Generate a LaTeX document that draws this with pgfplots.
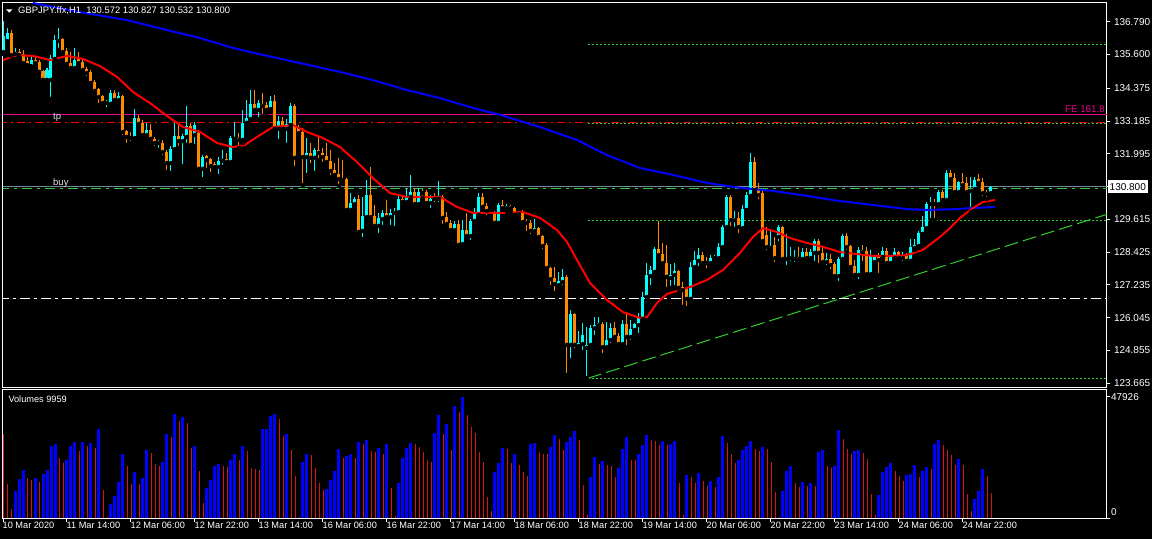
\documentclass[border=0pt]{standalone}
\usepackage{fontspec}
\setmainfont{Liberation Sans}
\usepackage{pgfplots}
\pgfplotsset{compat=1.18}
\usepackage{pgfplotstable}

\definecolor{upc}{RGB}{0,255,255}
\definecolor{dnc}{RGB}{255,140,0}
\definecolor{lvl}{RGB}{50,205,50}
\definecolor{bidgray}{RGB}{119,136,153}
\definecolor{lbl}{RGB}{225,225,235}
\definecolor{volred}{RGB}{215,20,20}

% bull candles: bar index, open, high, low, close
\pgfplotstableread{
i o h l c
0 135.69 136.82 135.62 136.27
1 136.09 136.56 136.02 136.38
3 135.62 135.84 135.44 135.69
7 135.18 135.51 135.15 135.40
11 134.68 135.11 134.60 135.04
12 134.68 135.58 133.99 135.47
13 135.44 136.31 135.40 136.13
14 136.09 136.56 135.77 136.16
18 135.11 135.84 135.00 135.40
26 133.84 133.95 133.62 133.88
27 133.81 134.31 133.77 134.20
29 133.95 134.24 133.88 134.10
33 132.57 133.62 132.54 133.30
36 132.68 133.12 132.54 132.86
39 132.39 132.50 132.14 132.43
42 131.66 132.28 131.30 132.17
43 132.17 133.12 132.14 132.64
45 132.46 132.72 131.55 132.64
46 132.61 133.73 132.32 133.01
48 132.68 133.15 132.28 133.04
50 131.45 131.95 131.08 131.88
54 131.52 131.88 131.19 131.74
55 131.74 132.14 131.52 131.81
57 131.70 132.64 131.66 132.57
58 132.54 133.15 132.39 132.57
60 132.50 133.59 132.39 133.12
61 133.12 133.95 133.04 133.30
62 133.26 134.31 133.22 133.81
64 133.59 133.95 133.26 133.84
67 133.62 134.10 133.55 133.91
69 132.90 133.37 132.46 133.19
71 132.90 133.26 132.32 133.08
72 133.04 133.84 133.01 133.73
76 131.88 132.57 131.23 132.03
78 131.85 132.21 131.30 132.14
87 129.96 130.57 129.85 130.21
88 130.17 130.43 130.10 130.36
90 129.20 130.43 128.90 129.74
91 129.70 131.05 129.67 130.50
94 129.38 129.85 129.05 129.67
95 129.63 129.96 129.34 129.85
97 129.70 129.99 129.34 129.85
98 129.85 130.03 129.30 129.92
99 129.88 130.50 129.85 130.36
101 130.25 130.76 130.17 130.47
102 130.43 131.23 130.39 130.61
104 130.17 130.76 130.07 130.61
107 130.21 130.50 129.96 130.36
109 130.36 131.01 130.17 130.43
113 129.23 129.56 129.12 129.45
115 128.72 129.59 128.58 129.23
117 129.01 129.63 128.80 129.56
118 129.56 130.03 129.49 129.85
119 129.78 130.57 129.74 130.43
122 129.74 129.88 129.59 129.78
124 129.49 130.21 129.45 130.14
126 130.03 130.17 129.88 130.10
129 129.81 129.92 129.74 129.88
133 129.20 129.63 129.09 129.30
139 127.23 127.71 127.13 127.38
140 127.34 127.82 127.16 127.53
142 125.06 126.33 124.51 126.18
144 125.02 125.57 124.87 125.13
145 125.09 125.86 124.80 125.42
146 124.95 125.71 123.86 125.06
147 125.06 125.78 125.02 125.67
148 125.67 126.07 125.35 125.78
149 125.78 126.07 125.67 125.86
151 124.98 125.89 124.91 125.24
152 125.24 125.86 125.06 125.67
155 125.09 125.96 125.06 125.82
157 125.35 125.96 125.17 125.64
158 125.60 125.86 125.57 125.82
159 125.78 126.22 125.42 126.04
160 126.00 126.98 125.96 126.80
161 126.80 128.03 126.73 127.60
162 127.56 127.92 127.16 127.78
163 127.71 128.61 127.67 128.54
167 127.49 128.00 127.13 127.60
168 127.60 128.03 127.16 127.74
172 126.73 128.07 126.69 127.89
173 127.89 128.47 127.74 128.14
174 128.11 128.58 127.85 128.32
177 128.03 128.32 128.00 128.21
178 128.21 128.32 128.14 128.25
179 128.21 128.76 128.18 128.61
180 128.61 129.41 128.58 129.34
181 129.34 130.50 129.27 130.43
183 129.59 129.92 129.27 129.67
185 129.30 130.14 129.27 129.99
186 129.96 130.61 129.88 130.50
187 130.47 132.03 130.43 131.70
192 128.58 129.27 128.51 128.65
194 128.98 129.41 128.76 129.34
196 128.18 129.09 127.89 128.21
197 128.21 128.61 128.03 128.25
198 128.18 128.51 128.00 128.25
200 128.18 128.58 128.14 128.43
202 128.21 128.54 128.07 128.43
203 128.40 128.90 128.03 128.83
206 128.07 128.40 127.89 128.18
209 127.56 128.25 127.31 128.18
210 128.18 129.09 128.11 129.01
214 127.60 128.61 127.38 128.51
217 127.63 128.51 127.60 128.29
218 128.07 128.32 128.03 128.25
220 128.25 128.61 128.21 128.47
222 128.03 128.29 128.00 128.25
223 128.21 128.58 128.18 128.43
225 128.21 128.43 128.03 128.32
227 128.11 128.90 128.03 128.61
228 128.58 128.90 128.51 128.69
229 128.65 129.20 128.58 129.12
230 129.09 129.74 129.05 129.34
231 129.30 130.25 129.23 130.17
232 130.17 130.43 129.59 130.21
234 130.17 130.68 130.14 130.61
236 130.32 131.41 130.28 131.30
239 130.61 131.01 130.47 130.97
242 130.65 131.15 129.88 130.72
243 130.72 131.15 130.65 131.05
247 130.572 130.827 130.532 130.800
}\upbars

% bear candles
\pgfplotstableread{
i o h l c
2 136.38 136.49 135.55 135.58
4 135.69 135.80 135.51 135.58
5 135.62 135.77 135.22 135.29
6 135.37 135.51 135.15 135.22
8 135.40 135.51 135.15 135.29
9 135.33 135.40 134.93 134.97
10 135.00 135.04 134.57 134.68
15 136.16 136.20 135.66 135.69
16 135.73 135.84 135.22 135.26
17 135.29 135.69 135.00 135.11
19 135.44 135.69 135.18 135.29
20 135.33 135.40 134.93 135.04
21 135.08 135.15 134.75 134.93
22 134.97 135.04 134.53 134.57
23 134.60 134.68 134.17 134.28
24 134.35 134.39 133.77 134.06
25 134.10 134.13 133.81 133.84
28 134.20 134.31 133.84 133.95
30 134.10 134.13 132.61 132.79
31 132.82 132.86 132.32 132.61
32 132.61 132.79 132.39 132.57
34 133.30 133.41 132.97 133.08
35 133.12 133.22 132.54 132.68
37 132.86 133.08 132.39 132.54
38 132.54 132.61 132.21 132.39
40 132.39 132.50 131.88 132.06
41 132.06 132.14 131.34 131.66
44 132.64 133.04 132.21 132.46
47 133.01 133.12 132.28 132.32
49 132.75 132.86 131.34 131.45
51 131.92 131.95 131.41 131.77
52 131.81 131.85 131.26 131.55
53 131.63 131.70 131.41 131.52
56 131.81 132.03 131.66 131.70
59 132.57 132.75 132.21 132.50
63 133.81 134.31 133.51 133.59
65 133.81 134.20 133.37 133.73
66 133.77 133.88 133.48 133.59
68 133.91 134.13 132.86 132.90
70 133.19 133.33 132.79 132.90
73 133.73 133.81 131.48 131.85
74 132.93 133.04 132.68 132.75
75 132.79 132.93 130.86 131.88
77 132.03 132.39 131.59 131.85
79 132.14 132.61 131.77 132.03
80 132.03 132.21 131.63 131.88
81 131.92 132.39 131.66 131.70
82 131.74 132.14 131.15 131.37
83 131.41 131.66 131.15 131.23
84 131.26 131.85 130.83 131.08
85 131.12 131.77 130.97 131.05
86 131.08 131.12 129.85 129.96
89 130.36 130.50 129.12 129.16
92 130.50 131.52 129.67 129.70
93 129.74 130.14 129.30 129.38
96 129.85 130.32 129.63 129.70
100 130.36 130.50 130.10 130.25
103 130.61 130.76 130.07 130.17
105 130.61 130.72 130.39 130.57
106 130.61 130.68 130.17 130.21
108 130.43 130.57 130.17 130.36
110 130.43 130.50 129.38 129.67
111 129.70 129.88 129.30 129.45
112 129.49 129.59 129.12 129.23
114 129.45 129.59 128.65 128.69
116 129.23 129.85 128.98 129.01
120 130.43 130.57 129.96 130.07
121 130.10 130.21 129.70 129.92
123 129.85 129.92 129.38 129.49
125 130.14 130.32 129.96 130.03
127 130.10 130.14 129.88 130.03
128 130.03 130.07 129.74 129.78
130 129.88 129.96 129.49 129.52
131 129.56 129.63 129.12 129.49
132 129.49 129.59 129.01 129.20
134 129.30 129.34 128.94 128.98
135 129.01 129.05 128.47 128.65
136 128.69 128.76 127.71 127.85
137 127.85 127.89 127.16 127.45
138 127.49 127.89 126.94 127.27
141 127.53 127.60 123.97 125.06
143 126.18 126.22 124.87 125.06
150 125.82 125.89 124.69 124.98
153 125.67 125.89 125.31 125.35
154 125.38 125.49 124.95 125.09
156 125.82 126.25 124.98 125.35
164 128.54 129.56 128.25 128.32
165 128.36 128.76 128.00 128.03
166 128.03 128.69 127.09 127.53
169 127.74 127.78 126.98 127.13
170 127.16 127.34 126.44 127.05
171 127.13 127.16 126.40 126.73
175 128.32 128.43 128.00 128.03
176 128.07 128.25 127.78 128.03
182 130.43 130.50 129.30 129.59
184 129.67 129.88 129.05 129.34
188 131.70 131.88 130.61 130.68
189 130.68 130.94 130.28 130.50
190 130.57 130.65 128.80 128.83
191 129.05 129.34 128.43 128.61
193 128.69 128.98 128.00 128.21
195 129.34 129.38 128.14 128.18
199 128.25 128.61 128.03 128.18
201 128.43 128.58 128.07 128.21
204 128.83 128.90 127.96 128.40
205 128.40 128.61 127.92 128.07
207 128.18 128.36 127.74 127.96
208 128.00 128.07 127.42 127.56
211 129.01 129.12 128.43 128.61
212 128.65 128.69 127.85 127.89
213 127.92 128.14 127.53 127.60
215 128.51 128.69 128.03 128.43
216 128.47 128.61 127.60 127.63
219 128.25 128.40 127.60 128.14
221 128.47 128.58 128.00 128.03
224 128.43 128.47 128.14 128.21
226 128.32 128.40 128.00 128.11
233 130.21 130.36 129.59 130.17
235 130.61 130.68 130.25 130.32
237 131.30 131.41 130.94 131.08
238 131.12 131.30 130.57 130.61
240 130.97 131.30 130.79 130.86
241 130.94 131.15 130.57 130.61
244 131.08 131.26 130.86 130.94
245 130.97 131.12 130.39 130.57
246 130.61 130.68 130.36 130.54
}\dnbars

% tick volume, rising bars
\pgfplotstableread{
i v
3 10536
4 15277
5 19097
8 15936
10 17253
11 18833
12 28579
13 29369
16 23048
17 28316
18 30159
20 30159
22 29501
24 35296
27 5663
28 8824
29 14355
30 25155
33 18043
35 15672
36 26735
40 21994
41 33057
43 40959
45 39773
48 28579
51 11985
52 15146
53 20677
54 21467
57 22784
58 25155
60 28316
65 35032
66 35100
67 40169
68 40959
71 33320
75 22257
76 25418
81 11590
82 14882
83 18438
84 27394
86 24365
87 25155
89 30159
91 30686
94 27525
96 29106
99 13960
100 23706
101 27657
102 29764
108 33715
109 40827
111 37139
113 44383
115 47926
123 18306
124 21862
125 27657
128 25286
132 29369
133 29764
137 28184
138 32925
141 30159
142 32135
143 34505
147 16331
148 24233
150 22652
154 19755
155 27394
156 32135
159 25418
160 28974
161 32925
165 30554
167 29100
168 30554
171 17121
174 17911
177 14750
179 16331
180 32530
184 23048
185 26867
186 28579
187 30554
190 28184
195 10799
196 18701
197 20677
200 14355
202 13960
204 26208
205 26999
208 20677
209 34901
213 26603
214 26999
219 9219
220 18306
221 20282
222 21862
226 17121
227 17516
228 21072
230 18701
231 20282
233 29369
234 30950
239 23443
243 7638
244 10799
245 19492
}\volup

% tick volume, falling bars
\pgfplotstableread{
i v
0 33056
1 13565
2 3424
6 15936
7 14882
9 14092
14 23838
15 21731
19 26340
21 28316
23 27525
25 10931
26 395
31 20677
32 13565
34 13302
37 25682
38 21467
39 20414
42 31871
44 38193
46 37666
47 27525
49 18438
50 6058
55 20414
56 20150
59 23048
61 26340
62 19887
63 19492
64 19097
69 39247
70 32267
72 26999
73 16726
74 500
77 25023
78 19623
79 13960
80 10931
85 23838
88 23838
90 29369
92 26340
93 25945
95 25155
97 11985
98 659
103 29369
104 27920
105 26208
106 22916
107 22257
110 33320
112 26999
114 42012
116 40827
117 36086
118 33715
119 25945
120 21994
121 8429
122 2897
126 27394
127 21599
129 20940
130 18306
131 16594
134 26208
135 25418
136 25300
139 31345
140 26999
144 30950
145 13170
146 1317
149 21204
151 21072
152 20677
153 16331
157 23048
158 23000
162 30950
163 30554
164 28974
166 28974
169 13960
170 1317
172 16331
173 13960
175 14750
176 12775
178 12380
181 29501
182 25418
183 21862
188 27394
189 26603
191 27394
192 22257
193 10404
194 300
198 13960
199 12380
201 12775
203 12775
206 20677
207 19887
210 31345
211 27394
212 25418
215 25813
216 23443
217 9614
218 1317
223 18701
224 16726
225 14750
229 16331
232 19492
235 28974
236 26999
237 25023
238 21072
240 21072
241 9614
242 2897
246 16726
247 9959
}\voldn

\begin{document}
\begin{tikzpicture}
\fill[black] (-2.5pt,-152pt) rectangle (1149.5pt,387pt);

% ---- price window (its lower left corner at the origin)
\begin{axis}[
  name=price, at={(0pt,0pt)}, anchor=south west,
  scale only axis, width=1104.5pt, height=385pt,
  xmin=-0.125, xmax=276, ymin=123.532, ymax=137.507,
  axis line style={white, line width=1pt},
  xtick=\empty,
  ytick={123.665,124.855,126.045,127.235,128.425,129.615,131.995,133.185,134.375,135.600,136.790},
  yticklabels={123.665,124.855,126.045,127.235,128.425,129.615,131.995,133.185,134.375,135.600,136.790},
  ytick pos=right, yticklabel pos=right,
  tick align=outside, major tick length=3.5pt,
  tick style={white, line width=1pt},
  yticklabel style={text=white, font=\fontsize{10}{12}\selectfont},
  extra y ticks={130.80}, extra y tick labels={130.800},
  extra y tick style={yticklabel style={fill=white, text=black, xshift=-3pt, inner xsep=2pt, inner ysep=3pt}},
]
% levels
\addplot[bidgray, line width=1pt] coordinates {(-1,130.80) (277,130.80)};
\addplot[lvl, line width=1pt, dash pattern=on 10pt off 5pt on 3pt off 5pt] coordinates {(-1,130.74) (277,130.74)};
\addplot[magenta, line width=1pt] coordinates {(-1,133.43) (277,133.43)};
\addplot[red, line width=1pt, dash pattern=on 8pt off 4pt on 2pt off 4pt] coordinates {(-1,133.13) (277,133.13)};
\addplot[white, line width=1pt, dash pattern=on 10pt off 4pt on 3pt off 4pt] coordinates {(-1,126.73) (277,126.73)};
\addplot[lvl, line width=1pt, dash pattern=on 2pt off 2pt] coordinates {(146.25,135.98) (277,135.98)};
\addplot[lvl, line width=1pt, dash pattern=on 2pt off 2pt] coordinates {(146.25,133.10) (277,133.10)};
\addplot[lvl, line width=1pt, dash pattern=on 2pt off 2pt] coordinates {(146.25,129.59) (277,129.59)};
\addplot[lvl, line width=1pt, dash pattern=on 2pt off 2pt] coordinates {(146.25,123.85) (277,123.85)};
\addplot[lvl, line width=1pt, dash pattern=on 14pt off 5pt] coordinates {(146.25,123.85) (276,129.80)};

% candles: wicks then bodies
\addplot[only marks, mark=none, error bars/.cd, y dir=plus, y explicit, error mark=none,
  error bar style={upc, line width=1pt}] table[x=i, y=l, y error plus expr=\thisrow{h}-\thisrow{l}] {\upbars};
\addplot[only marks, mark=none, error bars/.cd, y dir=plus, y explicit, error mark=none,
  error bar style={upc, line width=3pt}] table[x=i, y=o, y error plus expr=\thisrow{c}-\thisrow{o}] {\upbars};
\addplot[only marks, mark=none, error bars/.cd, y dir=plus, y explicit, error mark=none,
  error bar style={dnc, line width=1pt}] table[x=i, y=l, y error plus expr=\thisrow{h}-\thisrow{l}] {\dnbars};
\addplot[only marks, mark=none, error bars/.cd, y dir=plus, y explicit, error mark=none,
  error bar style={dnc, line width=3pt}] table[x=i, y=c, y error plus expr=\thisrow{o}-\thisrow{c}] {\dnbars};

% moving averages
\addplot[blue, line width=2pt] coordinates {
(7.5,137.47) (19.25,137.14) (31,136.85) (41,136.49) (49.25,136.20) (57.5,135.84)
(61.75,135.69) (74.25,135.29) (84.25,134.97) (92.25,134.68) (101,134.31) (109.25,134.02)
(117.5,133.66) (124.25,133.41) (134.25,132.97) (143.5,132.50) (151,131.95) (159.25,131.48)
(167.5,131.23) (176,130.94) (184.25,130.76) (192.5,130.65) (201,130.47) (209.25,130.28)
(217.5,130.14) (226,129.99) (231,129.96) (238.5,129.99) (242.5,130.03) (248,130.07)};
\addplot[red, line width=2pt] coordinates {
(0,135.40) (3.5,135.58) (7.5,135.55) (11.75,135.40) (16,135.55) (20,135.44) (24.25,135.18)
(28.5,134.79) (32.5,134.24) (36.75,133.84) (41,133.37) (45,132.97) (49.25,132.79)
(53.5,132.39) (57.5,132.24) (60.5,132.32) (63.5,132.61) (67.5,132.97) (72.5,133.04)
(76,132.79) (80,132.57) (84.25,132.24) (88.5,131.70) (92.5,131.12) (96.75,130.57)
(101,130.43) (109.25,130.43) (113.5,130.07) (117.5,129.85) (124.25,129.85) (130,129.88)
(134.25,129.67) (138.5,129.23) (141,128.80) (143.5,128.14) (146.75,127.31) (151,126.69)
(155,126.25) (159.25,126.04) (161,126.07) (163.5,126.58) (166,126.91) (169.25,127.05)
(171.75,127.16) (176,127.42) (180,127.78) (184.25,128.40) (187.5,128.98) (190,129.30)
(193.5,129.16) (196.75,128.94) (201,128.76) (205,128.62) (209.25,128.43) (213.5,128.36)
(217.5,128.29) (221.75,128.29) (226,128.32) (230,128.51) (234.25,128.98) (236.75,129.30)
(239.25,129.67) (242.5,130.03) (245,130.25) (248,130.32)};

\node[anchor=base west, inner sep=0pt, text=lbl, font=\fontsize{9.5}{11}\selectfont] at (axis cs:12.5,133.26) {tp};
\node[anchor=base west, inner sep=0pt, text=lbl, font=\fontsize{9.5}{11}\selectfont] at (axis cs:12.5,130.85) {buy};
\node[anchor=base east, inner sep=0pt, text=magenta, font=\fontsize{9.8}{11}\selectfont] at (axis cs:275.5,133.49) {FE 161.8};
\end{axis}

% ---- volume window, just under the price window
\begin{axis}[
  name=vol, at={(0pt,-2.5pt)}, anchor=north west,
  scale only axis, width=1104.5pt, height=128.5pt,
  xmin=-0.125, xmax=276, ymin=0, ymax=50770,
  axis line style={white, line width=1pt},
  xtick={0,16,...,240},
  xticklabels={10 Mar 2020,11 Mar 14:00,12 Mar 06:00,12 Mar 22:00,13 Mar 14:00,16 Mar 06:00,16 Mar 22:00,17 Mar 14:00,18 Mar 06:00,18 Mar 22:00,19 Mar 14:00,20 Mar 06:00,20 Mar 22:00,23 Mar 14:00,24 Mar 06:00,24 Mar 22:00},
  xtick pos=left, ytick pos=right, yticklabel pos=right,
  tick align=outside, major tick length=3.5pt,
  tick style={white, line width=1pt},
  xticklabel style={text=white, anchor=north west, inner sep=0pt, xshift=-0.5pt, font=\fontsize{9.2}{10}\selectfont},
  scaled y ticks=false,
  ytick={47926}, yticklabels={47926},
  extra y ticks={0}, extra y tick labels={0},
  extra y tick style={yticklabel style={yshift=6pt}},
  yticklabel style={text=white, xshift=-3pt, font=\fontsize{10}{12}\selectfont},
]
\addplot[ycomb, draw=blue, line width=3pt, mark=none] table[x=i, y=v] {\volup};
\addplot[ycomb, draw=volred, line width=0.8pt, mark=none] table[x=i, y=v] {\voldn};
\end{axis}

\fill[white] (3.5pt,377.7pt) -- (10.2pt,377.7pt) -- (6.8pt,374.3pt) -- cycle;
\node[anchor=west, inner sep=0pt, text=white, font=\fontsize{9.4}{11}\selectfont] at (15.5pt,376.5pt) {GBPJPY.ffx,H1\ \ 130.572 130.827 130.532 130.800};
\node[anchor=west, inner sep=0pt, text=white, font=\fontsize{9.2}{11}\selectfont] at (5.8pt,-12pt) {Volumes 9959};

\pgfresetboundingbox
\path[use as bounding box] (-2.5pt,-152pt) rectangle (1149.5pt,387pt);
\end{tikzpicture}
\end{document}
